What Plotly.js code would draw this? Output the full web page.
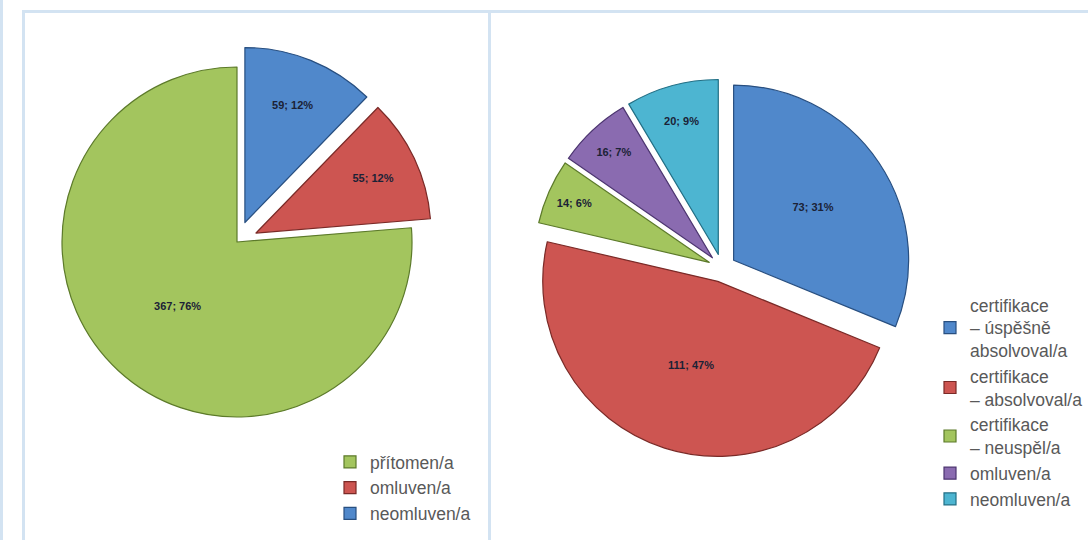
<!DOCTYPE html>
<html>
<head>
<meta charset="utf-8">
<script src="https://cdn.plot.ly/plotly-3.0.1.min.js"></script>
<style>html,body{margin:0;padding:0;background:#fff;}#chart{width:1088px;height:540px;}</style>
</head>
<body>
<div id="chart"></div>
<script>
// Left chart: attendance (clockwise from 12 o'clock)
const leftLabels = ['neomluven/a', 'omluven/a', 'přítomen/a'];
const leftValues = [59, 55, 367];
const leftPercents = ['12%', '12%', '76%'];
const leftColors = ['#5088cb', '#cd5551', '#a3c55e'];
const leftEdges  = ['#284f80', '#7a2a27', '#5c7a2a'];

// Right chart: certification (clockwise from 12 o'clock)
// (a zero-width space keeps the right chart's legend entries separate from the left chart's)
const rightLabels = ['certifikace<br>– úspěšně<br>absolvoval/a', 'certifikace<br>– absolvoval/a', 'certifikace<br>– neuspěl/a', 'omluven/a\u200b', 'neomluven/a\u200b'];
const rightValues = [73, 111, 14, 16, 20];
const rightPercents = ['31%', '47%', '6%', '7%', '9%'];
const rightColors = ['#5088cb', '#cd5551', '#a3c55e', '#8a6bb0', '#4db5d1'];
const rightEdges  = ['#284f80', '#7a2a27', '#5c7a2a', '#4c3570', '#226f85'];

const W = 1088, H = 540;
const px = v => v / W, py = v => 1 - v / H;

const labelFont = {family: 'Liberation Sans, Arial, sans-serif', size: 11, color: '#1b2236'};

const data = [
  {
    type: 'pie',
    labels: leftLabels,
    values: leftValues,
    text: leftPercents,
    sort: false,
    direction: 'clockwise',
    rotation: 0,
    pull: [0.12, 0.12, 0],
    marker: {colors: leftColors, line: {color: leftEdges, width: 1.2}},
    texttemplate: '<b>%{value}; %{text}</b>',
    textposition: 'inside',
    insidetextorientation: 'horizontal',
    textfont: labelFont,
    hoverinfo: 'label+value+percent',
    domain: {x: [px(36), px(438)], y: [py(438), py(46)]},
    legend: 'legend'
  },
  {
    type: 'pie',
    labels: rightLabels,
    values: rightValues,
    text: rightPercents,
    sort: false,
    direction: 'clockwise',
    rotation: 0,
    pull: [0.08, 0.08, 0.08, 0.08, 0.08],
    marker: {colors: rightColors, line: {color: rightEdges, width: 1.2}},
    texttemplate: '<b>%{value}; %{text}</b>',
    textposition: 'inside',
    insidetextorientation: 'horizontal',
    textfont: labelFont,
    hoverinfo: 'label+value+percent',
    domain: {x: [px(533), px(911)], y: [py(462), py(74)]},
    legend: 'legend2'
  }
];

const lineCol = '#d3e3f2';
const shapes = [
  {type: 'rect', xref: 'paper', yref: 'paper', x0: 0, x1: px(3), y0: 0, y1: 1, fillcolor: lineCol, line: {width: 0}, layer: 'below'},
  {type: 'rect', xref: 'paper', yref: 'paper', x0: px(22), x1: 1, y0: py(13), y1: py(10), fillcolor: lineCol, line: {width: 0}, layer: 'below'},
  {type: 'rect', xref: 'paper', yref: 'paper', x0: px(22), x1: px(25), y0: 0, y1: py(10), fillcolor: lineCol, line: {width: 0}, layer: 'below'},
  {type: 'rect', xref: 'paper', yref: 'paper', x0: px(488), x1: px(491), y0: 0, y1: py(10), fillcolor: lineCol, line: {width: 0}, layer: 'below'}
];

const legendFont = {family: 'Liberation Sans, Arial, sans-serif', size: 17.5, color: '#595959'};

const layout = {
  width: W, height: H,
  margin: {l: 0, r: 0, t: 0, b: 0},
  paper_bgcolor: '#ffffff',
  plot_bgcolor: '#ffffff',
  showlegend: true,
  shapes: shapes,
  legend: {
    x: px(330), y: py(488), xanchor: 'left', yanchor: 'middle',
    font: legendFont, bgcolor: 'rgba(0,0,0,0)', traceorder: 'reversed'
  },
  legend2: {
    x: px(930), y: py(402), xanchor: 'left', yanchor: 'middle',
    font: legendFont, bgcolor: 'rgba(0,0,0,0)', traceorder: 'normal'
  }
};

Plotly.newPlot('chart', data, layout, {displayModeBar: false, staticPlot: true});
</script>
</body>
</html>
